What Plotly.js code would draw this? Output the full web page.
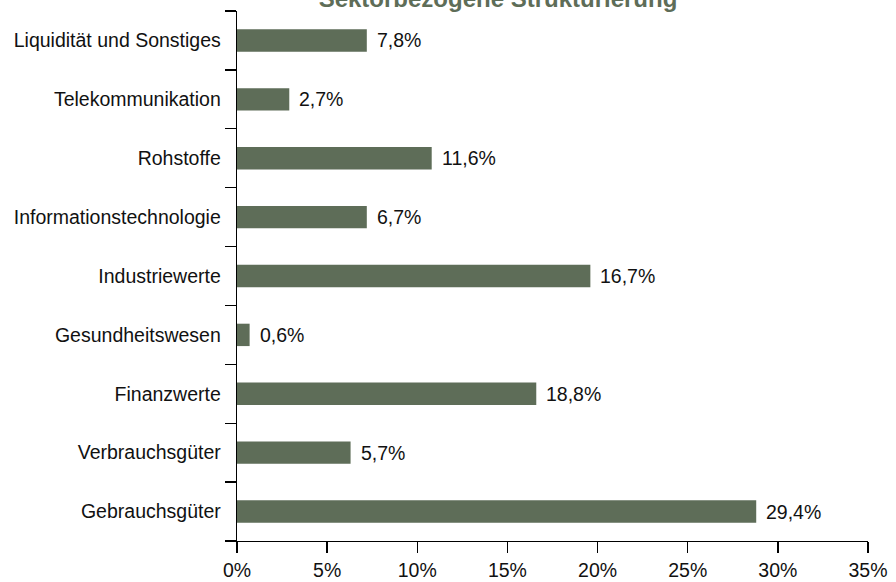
<!DOCTYPE html>
<html>
<head>
<meta charset="utf-8">
<script src="https://cdn.plot.ly/plotly-3.0.1.min.js"></script>
<style>html,body{margin:0;padding:0;background:#fff}#chart{width:896px;height:582px}</style>
</head>
<body>
<div id="chart"></div>
<script>
// Categories from bottom to top
const categories = [
  "Gebrauchsgüter",
  "Verbrauchsgüter",
  "Finanzwerte",
  "Gesundheitswesen",
  "Industriewerte",
  "Informationstechnologie",
  "Rohstoffe",
  "Telekommunikation",
  "Liquidität und Sonstiges"
];
// Bar lengths as drawn in the picture (percent)
const barValues = [28.8, 6.3, 16.6, 0.7, 19.6, 7.2, 10.8, 2.9, 7.2];
// Value labels printed next to the bars
const valueLabels = ["29,4%", "5,7%", "18,8%", "0,6%", "16,7%", "6,7%", "11,6%", "2,7%", "7,8%"];
const xTickValues = [0, 5, 10, 15, 20, 25, 30, 35];
const titleText = "Sektorbezogene Strukturierung";

const textFont = "Liberation Sans Narrow, Liberation Sans, Arial, sans-serif";
const barColor = "#5e6d58";
const fs = 19.5;

const trace = {
  type: "bar",
  orientation: "h",
  x: barValues,
  y: categories,
  marker: {color: barColor, line: {width: 0}},
  hoverinfo: "none"
};

const annotations = categories.map((c, i) => ({
  x: barValues[i],
  y: c,
  xref: "x",
  yref: "y",
  text: valueLabels[i],
  showarrow: false,
  xanchor: "left",
  yanchor: "middle",
  xshift: 8,
  font: {family: textFont, size: fs, color: "#111"}
}));

const layout = {
  width: 896,
  height: 582,
  margin: {l: 237, r: 28, t: 11, b: 41, pad: 0},
  paper_bgcolor: "#fff",
  plot_bgcolor: "#fff",
  bargap: 0.62,
  showlegend: false,
  title: {
    text: "<b>" + titleText + "</b>",
    font: {family: "Liberation Sans, Arial, sans-serif", size: 24, color: "#5e6d58"},
    xref: "container",
    yref: "container",
    x: 498 / 896,
    xanchor: "center",
    y: 1 - 7 / 582,
    yanchor: "bottom"
  },
  xaxis: {
    range: [0, 35],
    tickvals: xTickValues,
    ticktext: xTickValues.map(v => v + "%"),
    ticks: "outside",
    ticklen: 11,
    tickwidth: 1.3,
    tickcolor: "#000",
    showline: true,
    linecolor: "#000",
    linewidth: 1.3,
    showgrid: false,
    zeroline: false,
    automargin: false,
    fixedrange: true,
    ticklabelstandoff: 0,
    tickfont: {family: textFont, size: fs, color: "#111"}
  },
  yaxis: {
    type: "category",
    categoryorder: "array",
    categoryarray: categories,
    range: [-0.5, 8.5],
    tickson: "boundaries",
    ticks: "outside",
    ticklen: 11,
    tickwidth: 1.3,
    tickcolor: "#000",
    showline: true,
    linecolor: "#000",
    linewidth: 1.3,
    showgrid: false,
    zeroline: false,
    automargin: false,
    fixedrange: true,
    ticklabelstandoff: 11,
    tickfont: {family: textFont, size: fs, color: "#111"}
  },
  annotations: annotations
};

Plotly.newPlot("chart", [trace], layout, {displayModeBar: false, staticPlot: true});
</script>
</body>
</html>
